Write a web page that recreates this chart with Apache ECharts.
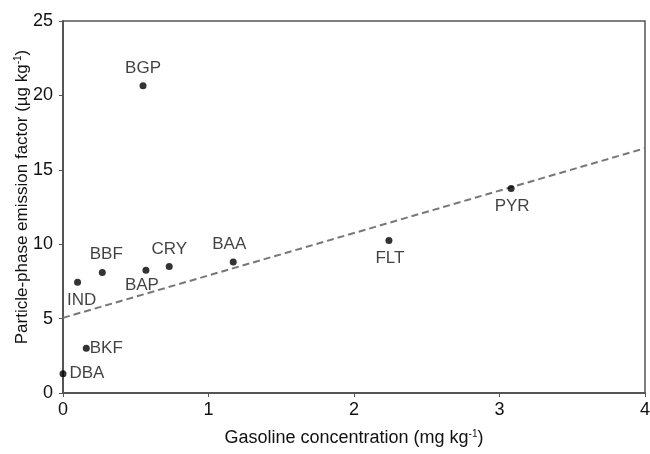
<!DOCTYPE html>
<html>
<head>
<meta charset="utf-8">
<script src="https://cdn.jsdelivr.net/npm/echarts@6/dist/echarts.min.js"></script>
<style>
  html, body { margin: 0; padding: 0; background: #fff; }
  #chart { width: 650px; height: 454px; }
</style>
</head>
<body>
<div id="chart"></div>
<script>
// compounds and their values
const compounds = ['DBA', 'BKF', 'IND', 'BBF', 'BGP', 'BAP', 'CRY', 'BAA', 'FLT', 'PYR'];
const gasoline = [0.0, 0.16, 0.10, 0.27, 0.55, 0.57, 0.73, 1.17, 2.24, 3.08];
const emission = [1.3, 3.0, 7.45, 8.1, 20.65, 8.25, 8.5, 8.8, 10.25, 13.75];
// regression line end points
const trendX = [0, 4];
const trendY = [5.05, 16.45];

// where each label sits relative to its dot
const labelPlace = {
    DBA: { position: 'right', distance: 3 },
    BKF: { position: 'right', distance: 0 },
    IND: { position: 'bottom', offset: [4, 1] },
    BBF: { position: 'top', offset: [4, -1] },
    BGP: { position: 'top', offset: [0, 0] },
    BAP: { position: 'bottom', offset: [-4, -2] },
    CRY: { position: 'top', offset: [0, 0] },
    BAA: { position: 'top', offset: [-4, -1] },
    FLT: { position: 'bottom', offset: [1, 1] },
    PYR: { position: 'bottom', offset: [1, 1] }
};

const points = compounds.map((name, i) => ({
    name: name,
    value: [gasoline[i], emission[i]],
    label: Object.assign({ show: true, formatter: '{b}' }, labelPlace[name])
}));

const textColor = '#111';
const supStyle = { fontSize: 10, verticalAlign: 'top', color: textColor, padding: [0, 0, 9, 0] };

const chart = echarts.init(document.getElementById('chart'));
chart.setOption({
    animation: false,
    textStyle: { fontFamily: 'Liberation Sans, Arial, sans-serif' },
    grid: {
        left: 63, right: 5, top: 21, bottom: 61,
        outerBoundsMode: 'none',
        containLabel: false,
        show: true, borderColor: '#555', borderWidth: 1.5
    },
    xAxis: {
        type: 'value', min: 0, max: 4, interval: 1,
        name: 'Gasoline concentration (mg kg{sup|-1})',
        nameLocation: 'middle', nameGap: 36,
        nameMoveOverlap: false,
        nameTextStyle: { color: textColor, fontSize: 18, rich: { sup: supStyle } },
        splitLine: { show: false },
        axisLine: { lineStyle: { color: '#555', width: 2 } },
        axisTick: { show: true, length: 4, lineStyle: { color: '#555' } },
        axisLabel: { color: textColor, fontSize: 18, margin: 8 }
    },
    yAxis: {
        type: 'value', min: 0, max: 25, interval: 5,
        name: 'Particle-phase emission factor (µg kg{sup|-1})',
        nameLocation: 'middle', nameGap: 31,
        nameMoveOverlap: false,
        nameTextStyle: {
            color: textColor, fontSize: 17, padding: [0, 0, 0, 20],
            rich: { sup: supStyle }
        },
        splitLine: { show: false },
        axisLine: { show: true, lineStyle: { color: '#555', width: 2 } },
        axisTick: { show: true, length: 4, lineStyle: { color: '#555' } },
        axisLabel: { color: textColor, fontSize: 18, margin: 10 }
    },
    series: [
        {
            type: 'line',
            data: trendX.map((x, i) => [x, trendY[i]]),
            showSymbol: false,
            symbol: 'none',
            lineStyle: { color: '#777', width: 2, type: [7, 4] },
            silent: true,
            z: 1
        },
        {
            type: 'scatter',
            data: points,
            symbolSize: 7,
            itemStyle: { color: '#000' },
            label: { color: textColor, fontSize: 17 },
            z: 3
        }
    ]
});
</script>
</body>
</html>
